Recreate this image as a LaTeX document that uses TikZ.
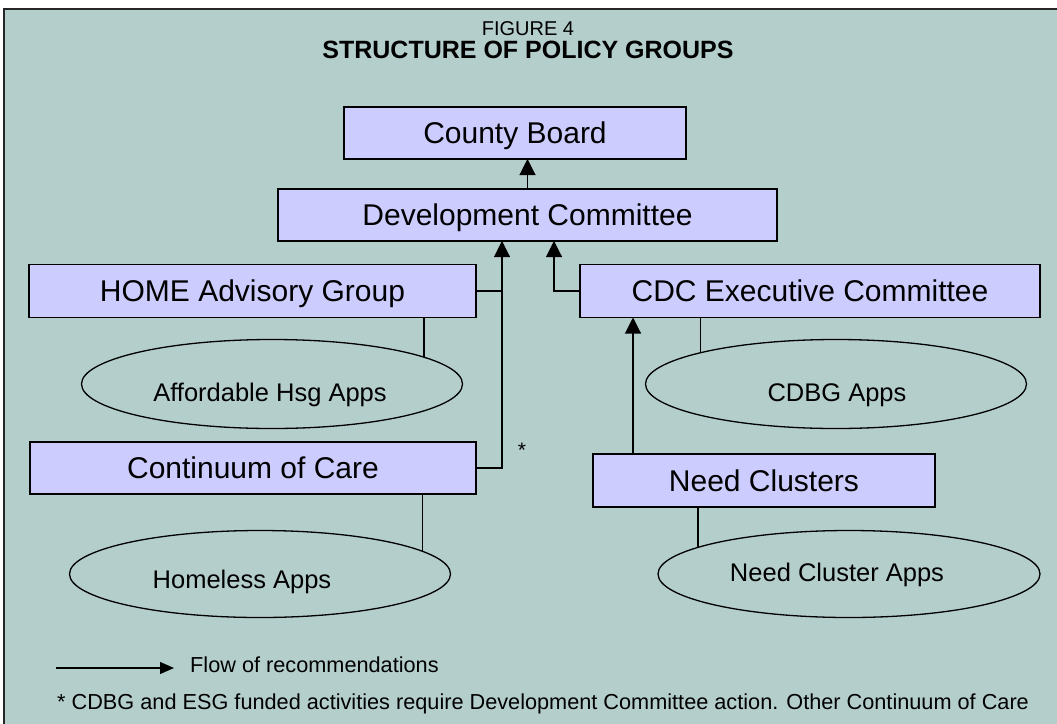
\documentclass[tikz,border=0pt]{standalone}
\usepackage{fontspec}
\setmainfont{Liberation Sans}
\usetikzlibrary{shapes.geometric,arrows.meta}
\definecolor{bgteal}{RGB}{180,206,204}
\definecolor{boxfill}{RGB}{204,204,255}
\begin{document}
\begin{tikzpicture}[x=1pt,y=1pt,
  box/.style={draw=black, line width=1.4pt, fill=boxfill, rectangle, inner sep=0pt, outer sep=0pt,
    font=\fontsize{30}{36}\selectfont, text height=21.5pt, text depth=0pt},
  appsel/.style={draw=black, line width=1.3pt, ellipse, inner sep=0pt, outer sep=0pt},
  appstxt/.style={font=\fontsize{25.5}{30}\selectfont, inner sep=0pt, text height=18.3pt, text depth=0pt},
  flow/.style={line width=1.1pt, -{Triangle[width=16pt,length=16pt]}},
  legendflow/.style={line width=1.1pt, -{Triangle[width=12pt,length=14pt]}},
  link/.style={line width=1.1pt},
  smalltxt/.style={font=\fontsize{21.7}{26}\selectfont, inner sep=0pt},
]
\useasboundingbox (0,0) rectangle (1057,-723);
\fill[white] (0,0) rectangle (1057,-723);
\draw[fill=bgteal, line width=1.5pt, draw=black!85] (4,-9) rectangle (1075,-740);

% title
\node[font=\fontsize{20}{24}\selectfont, inner sep=0pt, text height=14.3pt, text depth=0pt] (fig) at (528,-28) {FIGURE 4};
\node[font=\fontsize{25}{30}\selectfont\bfseries, inner sep=0pt, text height=17.9pt, text depth=0pt] (ttl) at (528,-50) {STRUCTURE OF POLICY GROUPS};

% boxes
\node[box, minimum width=342pt, minimum height=52pt] (county) at (515,-133) {County Board};
\node[box, minimum width=499pt, minimum height=52pt] (dev) at (527.5,-215) {Development Committee};
\node[box, minimum width=447pt, minimum height=53pt] (home) at (252.5,-291) {HOME Advisory Group};
\node[box, minimum width=460pt, minimum height=53pt] (cdc) at (810,-291) {CDC Executive Committee};
\node[box, minimum width=446pt, minimum height=52pt] (coc) at (253,-468) {Continuum of Care};
\node[box, minimum width=342pt, minimum height=53pt] (need) at (764,-480.5) {Need Clusters};

% ellipses
\node[appsel, minimum width=381pt, minimum height=89pt] (aff) at (272,-384) {};
\node[appstxt] (afft) at (270,-392) {Affordable Hsg Apps};
\node[appsel, minimum width=381pt, minimum height=89pt] (cdbg) at (836,-384) {};
\node[appstxt] (cdbgt) at (837,-392) {CDBG Apps};
\node[appsel, minimum width=381pt, minimum height=87pt] (hless) at (260,-574) {};
\node[appstxt] (hlesst) at (242,-579) {Homeless Apps};
\node[appsel, minimum width=382pt, minimum height=87pt] (napps) at (849,-574) {};
\node[appstxt] (nappst) at (837,-572) {Need Cluster Apps};

% junction columns
\coordinate (jl) at (502,-300);
\coordinate (jr) at (554,-300);
\coordinate (jn) at (633,-400);

% connectors
\draw[flow] (dev.north) -- (county.south -| dev.north);
\draw[link] (home.east) -- (home.east -| jl);
\draw[flow] (coc.east) -- (coc.east -| jl) -- (jl |- dev.south);
\draw[flow] (cdc.west) -- (cdc.west -| jr) -- (jr |- dev.south);
\draw[flow] (jn |- need.north) -- (jn |- cdc.south);

\draw[link] (aff.10 |- home.south) -- (aff.10);
\draw[link] (cdbg.167.5 |- cdc.south) -- (cdbg.167.5);
\draw[link] (hless.8 |- coc.south) -- (hless.8);
\draw[link] (napps.170 |- need.south) -- (napps.170);

% asterisk
\node[font=\fontsize{21}{24}\selectfont, inner sep=0pt] (star) at (522,-450) {*};

% legend
\coordinate (l1) at (56,-668);
\coordinate (l2) at (174,-668);
\draw[legendflow] (l1) -- (l2);
\node[smalltxt, anchor=base west] (legt) at (190,-672) {Flow of recommendations};
\node[smalltxt, anchor=base west] (foot) at (57,-709) {* CDBG and ESG funded activities require Development Committee action. Other Continuum of Care};
\end{tikzpicture}
\end{document}
